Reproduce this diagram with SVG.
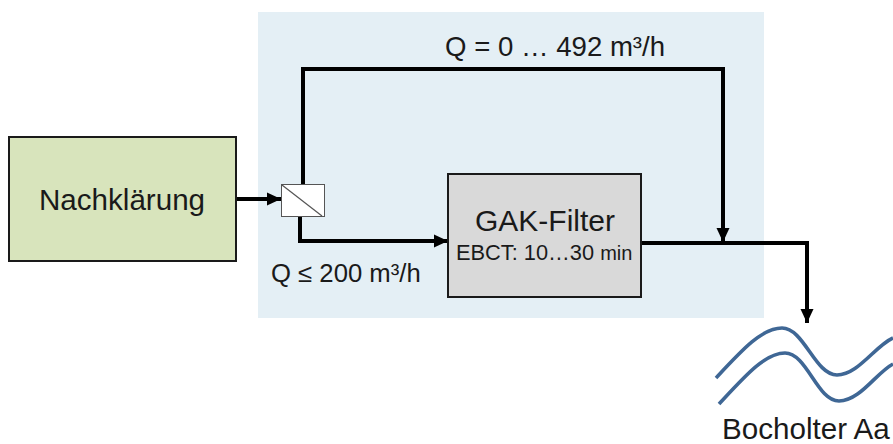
<svg xmlns="http://www.w3.org/2000/svg" width="893" height="444" viewBox="0 0 893 444">
<style>
text{font-family:"Liberation Sans",Arial,sans-serif;fill:#1a1a1a}
.c{fill:none;stroke:#000;stroke-width:4}
.b{stroke:#1a1a1a;stroke-width:2}
.r{fill:none;stroke:#3f6795;stroke-width:3.6}
</style>
<defs>
<marker id="a" markerUnits="userSpaceOnUse" markerWidth="15" markerHeight="15" refX="14" refY="7.5" orient="auto"><path d="M0 1L14 7.5L0 14Z" fill="#000"/></marker>
</defs>
<rect id="bg" x="258" y="12" width="506" height="306" fill="#e4eff5"/>
<g id="connectors">
<path class="c" d="M236 199H281" marker-end="url(#a)"/>
<path class="c" d="M303 185V69H723V242" marker-end="url(#a)"/>
<path class="c" d="M300 217V241H448" marker-end="url(#a)"/>
<path class="c" d="M642 243H807V323" marker-end="url(#a)"/>
</g>
<g id="nachklaerung">
<rect class="b" x="9" y="137" width="227" height="124" fill="#d8e4bc"/>
<text x="122" y="210" font-size="29.6" text-anchor="middle">Nachklärung</text>
</g>
<g id="splitter">
<rect x="281.500" y="184.500" width="43" height="32" fill="#fff" stroke="#555" stroke-width="1"/>
<path d="M282 185L322 216" stroke="#555" stroke-width="1.2"/>
</g>
<g id="gak-filter">
<rect class="b" x="448" y="174" width="193" height="123" fill="#d9d9d9"/>
<text x="545" y="231" font-size="30" text-anchor="middle">GAK-Filter</text>
<text x="456" y="260" font-size="21.800">EBCT: 10…30 <tspan font-size="20">min</tspan></text>
</g>
<text x="445" y="56" font-size="27.600">Q = 0 … 492 m³/h</text>
<text x="271" y="282" font-size="25.700">Q ≤ 200 m³/h</text>
<g id="bocholter-aa">
<path class="r" d="M716 378C742 350 762 328 782 328C804 328 815 375 837 375C858 375 875 346 893 338"/>
<path class="r" d="M719 404C745 376 765 353 785 353C807 353 817 401 839 401C860 401 877 372 893 364"/>
<text x="722" y="439" font-size="29.600">Bocholter Aa</text>
</g>
</svg>
